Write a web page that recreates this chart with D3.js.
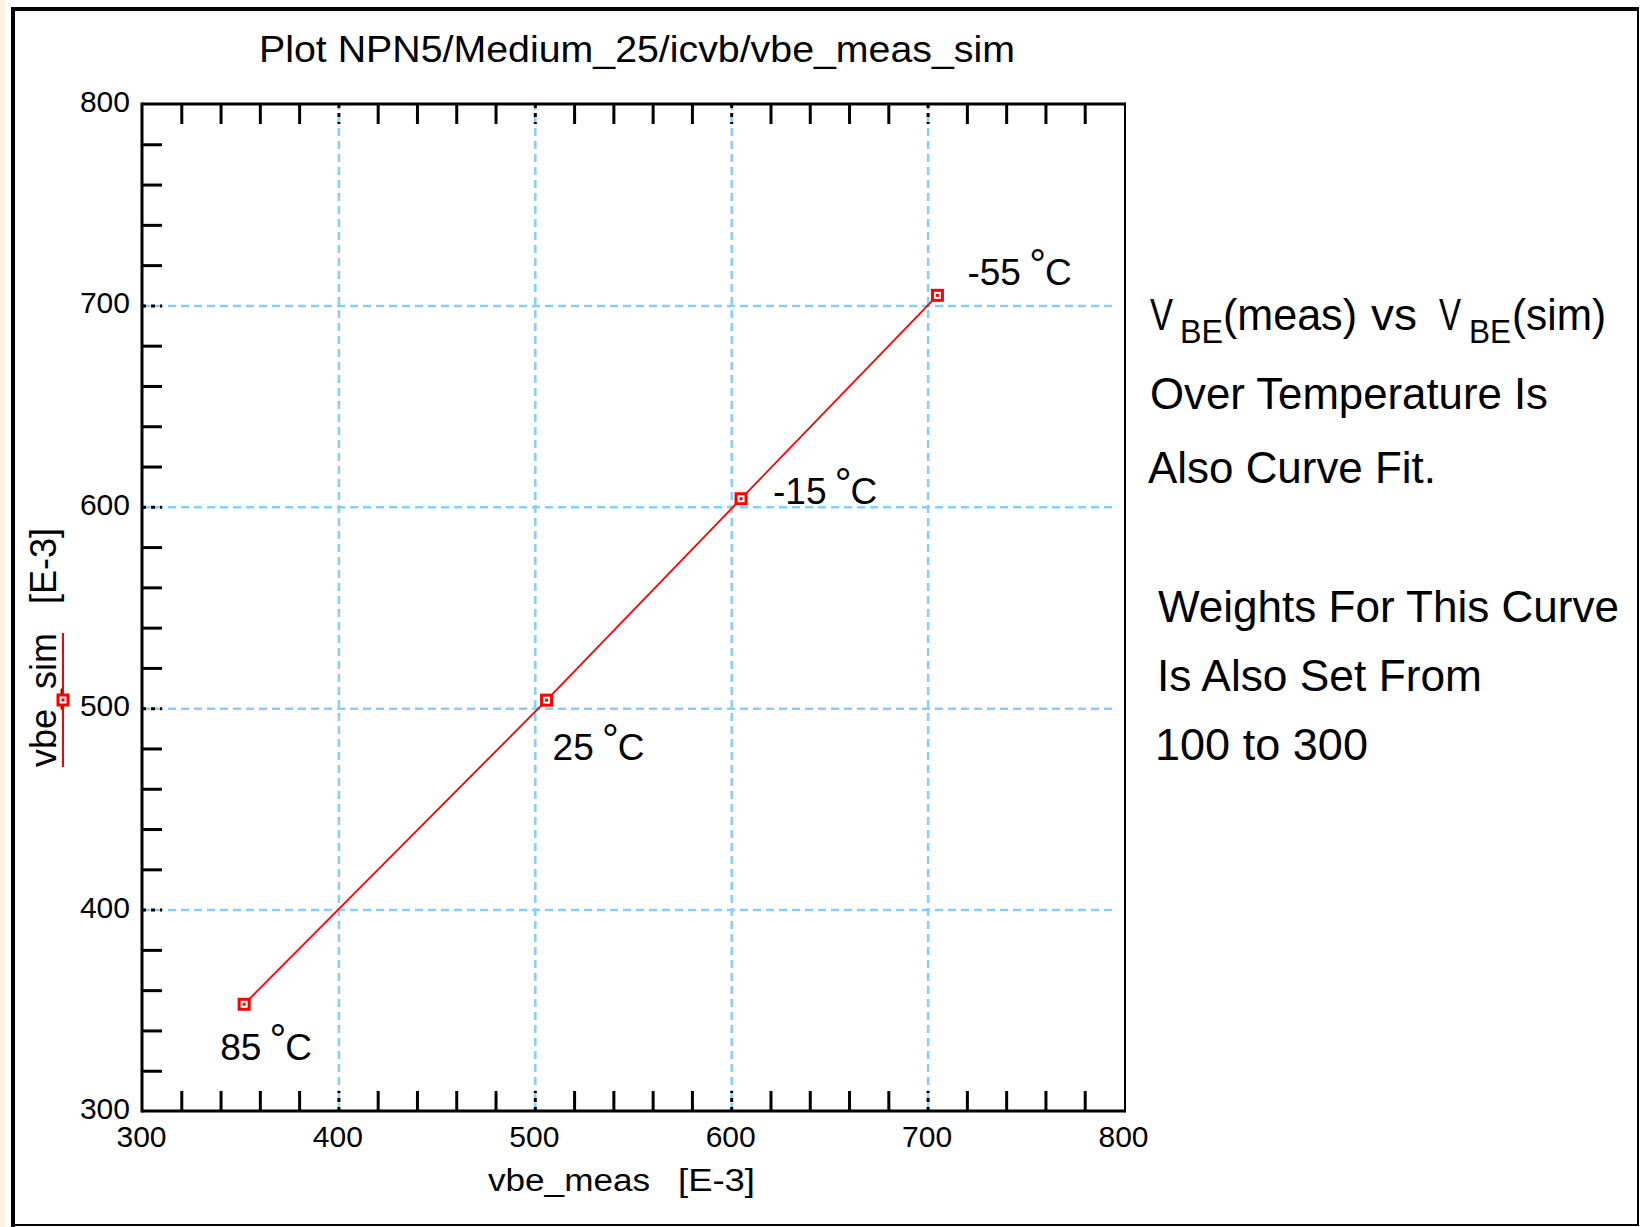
<!DOCTYPE html>
<html lang="en">
<head>
<meta charset="utf-8">
<title>Plot NPN5/Medium_25/icvb/vbe_meas_sim</title>
<script src="https://cdn.jsdelivr.net/npm/d3@7"></script>
<style>
    body { margin: 0; background: #fff; }
    text { font-family: "Liberation Sans", Arial, sans-serif; fill: #000; }
    .minor path, .major path, .grid path, .labels path { display: none; }
    .minor line { stroke: #000; stroke-width: 3; }
    .grid line { stroke: #87cefa; stroke-width: 2.5; stroke-dasharray: 8,5; }
    .major line { stroke: #000; stroke-width: 3; stroke-dasharray: 4,5; }
    .labels line { display: none; }
    .labels text { font-size: 30px; font-family: "Liberation Sans", Arial, sans-serif; }
</style>
</head>
<body>
<script>
// data (units E-3)
var vbeMeas = [352, 506, 605, 705];
var vbeSim = [353, 504, 604, 705];
var tempLabels = ["85", "25", "-15", "-55"];

// axis ticks
var majorTicks = [300, 400, 500, 600, 700, 800];
var gridTicks = [400, 500, 600, 700];
var minorTicks = d3.range(300, 801, 20).filter(function(v) { return v % 100 != 0; });

var noteLines = ["Over Temperature Is", "Also Curve Fit.", "Weights For This Curve", "Is Also Set From", "100 to 300"];

var w = 1640, h = 1227;
var plot = {left: 142, right: 1124, top: 104, bottom: 1111};

var svg = d3.select("body").append("svg")
    .attr("width", w)
    .attr("height", h);

// window frame
svg.append("rect").attr("x", 0).attr("y", 0).attr("width", 5).attr("height", h).attr("fill", "#fbf2e0");
svg.append("line").attr("x1", 13).attr("x2", 13).attr("y1", 7).attr("y2", h).attr("stroke", "#000").attr("stroke-width", 4);
svg.append("line").attr("x1", 11).attr("x2", 1639).attr("y1", 9).attr("y2", 9).attr("stroke", "#000").attr("stroke-width", 4);
svg.append("line").attr("x1", 1638).attr("x2", 1638).attr("y1", 7).attr("y2", 1226).attr("stroke", "#000").attr("stroke-width", 2);
svg.append("line").attr("x1", 11).attr("x2", 1639).attr("y1", 1225).attr("y2", 1225).attr("stroke", "#000").attr("stroke-width", 2);

var xScale = d3.scaleLinear().domain([300, 800]).range([plot.left, plot.right]);
var yScale = d3.scaleLinear().domain([300, 800]).range([plot.bottom, plot.top]);

// grid lines
svg.append("g").attr("class", "grid")
    .attr("transform", "translate(0," + plot.bottom + ")")
    .call(d3.axisBottom(xScale).tickValues(gridTicks).tickSize(-(plot.bottom - plot.top)).tickFormat(""));
svg.append("g").attr("class", "grid")
    .attr("transform", "translate(" + plot.left + ",0)")
    .call(d3.axisLeft(yScale).tickValues(gridTicks).tickSize(-(plot.right - plot.left - 7)).tickFormat(""));

// minor ticks pointing inward
svg.append("g").attr("class", "minor")
    .attr("transform", "translate(0," + plot.bottom + ")")
    .call(d3.axisBottom(xScale).tickValues(minorTicks).tickSize(-20).tickSizeOuter(0).tickFormat(""));
svg.append("g").attr("class", "minor")
    .attr("transform", "translate(0," + plot.top + ")")
    .call(d3.axisTop(xScale).tickValues(minorTicks).tickSize(-20).tickSizeOuter(0).tickFormat(""));
svg.append("g").attr("class", "minor")
    .attr("transform", "translate(" + plot.left + ",0)")
    .call(d3.axisLeft(yScale).tickValues(minorTicks).tickSize(-20).tickSizeOuter(0).tickFormat(""));

// major ticks, dashed black over the grid
svg.append("g").attr("class", "major")
    .attr("transform", "translate(0," + plot.bottom + ")")
    .call(d3.axisBottom(xScale).tickValues(gridTicks).tickSize(-20).tickFormat(""));
svg.append("g").attr("class", "major")
    .attr("transform", "translate(0," + plot.top + ")")
    .call(d3.axisTop(xScale).tickValues(gridTicks).tickSize(-20).tickFormat(""));
svg.append("g").attr("class", "major")
    .attr("transform", "translate(" + plot.left + ",0)")
    .call(d3.axisLeft(yScale).tickValues(gridTicks).tickSize(-20).tickFormat(""));

// tick labels
svg.append("g").attr("class", "labels")
    .attr("transform", "translate(-1," + plot.bottom + ")")
    .call(d3.axisBottom(xScale).tickValues(majorTicks).tickSize(0).tickPadding(15))
    .selectAll("text").attr("fill", "#000");
svg.append("g").attr("class", "labels")
    .attr("transform", "translate(" + plot.left + ",0)")
    .call(d3.axisLeft(yScale).tickValues(majorTicks).tickSize(0).tickPadding(12))
    .selectAll("text").attr("dy", "0.25em").attr("fill", "#000");

// plot frame
svg.append("line").attr("x1", plot.left).attr("x2", plot.left).attr("y1", plot.top - 1.5).attr("y2", plot.bottom + 1.5).attr("stroke", "#000").attr("stroke-width", 3);
svg.append("line").attr("x1", plot.left).attr("x2", plot.right + 1).attr("y1", plot.top).attr("y2", plot.top).attr("stroke", "#000").attr("stroke-width", 3);
svg.append("line").attr("x1", plot.left).attr("x2", plot.right + 1).attr("y1", plot.bottom).attr("y2", plot.bottom).attr("stroke", "#000").attr("stroke-width", 3);
svg.append("line").attr("x1", plot.right + 1).attr("x2", plot.right + 1).attr("y1", plot.top - 1.5).attr("y2", plot.bottom + 1.5).attr("stroke", "#000").attr("stroke-width", 2);

// series
var points = vbeMeas.map(function(d, i) { return {x: d, y: vbeSim[i], t: tempLabels[i]}; });

var lineFunction = d3.line()
    .x(function(d) { return xScale(d.x); })
    .y(function(d) { return yScale(d.y); });

svg.append("path")
    .attr("d", lineFunction(points))
    .attr("stroke", "#ff0000")
    .attr("stroke-width", 1.8)
    .attr("fill", "none");

function marker(g, cx, cy) {
    g.append("rect")
        .attr("x", cx - 5).attr("y", cy - 5)
        .attr("width", 10).attr("height", 10)
        .attr("fill", "#fff")
        .attr("stroke", "#ff0000")
        .attr("stroke-width", 3);
    g.append("rect")
        .attr("x", cx - 1.5).attr("y", cy - 1.5)
        .attr("width", 3).attr("height", 3)
        .attr("fill", "#ff0000");
}

points.forEach(function(d) { marker(svg, xScale(d.x), yScale(d.y)); });

// temperature annotations
var labelOffsets = [[-24, 56], [6, 60], [32, 5], [30, -10]];
points.forEach(function(d, i) {
    var t = svg.append("text")
        .attr("x", xScale(d.x) + labelOffsets[i][0])
        .attr("y", yScale(d.y) + labelOffsets[i][1])
        .attr("font-size", "37px");
    t.append("tspan").text(d.t + " ");
    t.append("tspan").attr("font-size", "42px").attr("dy", -6).attr("dx", -2).text("\u00b0");
    t.append("tspan").attr("dy", 6).attr("dx", -1).text("C");
});

// title
svg.append("text")
    .attr("x", 259).attr("y", 62)
    .attr("font-size", "36px")
    .attr("textLength", 756).attr("lengthAdjust", "spacingAndGlyphs")
    .text("Plot NPN5/Medium_25/icvb/vbe_meas_sim");

// x axis title
svg.append("text")
    .attr("x", 488).attr("y", 1191)
    .attr("font-size", "31px")
    .attr("textLength", 162).attr("lengthAdjust", "spacingAndGlyphs")
    .text("vbe_meas");
svg.append("text")
    .attr("x", 678).attr("y", 1191)
    .attr("font-size", "31px")
    .attr("textLength", 77).attr("lengthAdjust", "spacingAndGlyphs")
    .text("[E-3]");

// y axis title with legend line
svg.append("text")
    .attr("transform", "translate(56,767) rotate(-90)")
    .attr("font-size", "36px")
    .text("vbe_sim");
svg.append("text")
    .attr("transform", "translate(56,604) rotate(-90)")
    .attr("font-size", "36px")
    .text("[E-3]");
svg.append("line")
    .attr("x1", 63).attr("x2", 63).attr("y1", 633).attr("y2", 767)
    .attr("stroke", "#ff0000").attr("stroke-width", 2);
marker(svg, 63, 700);

// side notes, first line with subscripts in one text element
var first = [
    {s: "V", x: 1150, y: 330, len: 23, size: 45},
    {s: "BE", x: 1180, y: 343, len: 43, size: 33},
    {s: "(meas)", x: 1223, y: 330, len: 134, size: 45},
    {s: "vs", x: 1371, y: 330, len: 46, size: 45},
    {s: "V", x: 1439, y: 330, len: 22, size: 45},
    {s: "BE", x: 1469, y: 343, len: 42, size: 33},
    {s: "(sim)", x: 1512, y: 330, len: 94, size: 45}
];
var line1 = svg.append("text").attr("font-size", "45px");
first.forEach(function(p) {
    line1.append("tspan")
        .attr("x", p.x).attr("y", p.y)
        .attr("font-size", p.size + "px")
        .attr("textLength", p.len).attr("lengthAdjust", "spacingAndGlyphs")
        .text(p.s);
});

var noteBox = [
    {x: 1150, y: 409, len: 398},
    {x: 1148, y: 483, len: 288},
    {x: 1158, y: 622, len: 461},
    {x: 1157, y: 691, len: 325},
    {x: 1155, y: 760, len: 213}
];
noteLines.forEach(function(s, i) {
    svg.append("text")
        .attr("x", noteBox[i].x).attr("y", noteBox[i].y)
        .attr("font-size", "45px")
        .attr("textLength", noteBox[i].len).attr("lengthAdjust", "spacingAndGlyphs")
        .text(s);
});
</script>
</body>
</html>
